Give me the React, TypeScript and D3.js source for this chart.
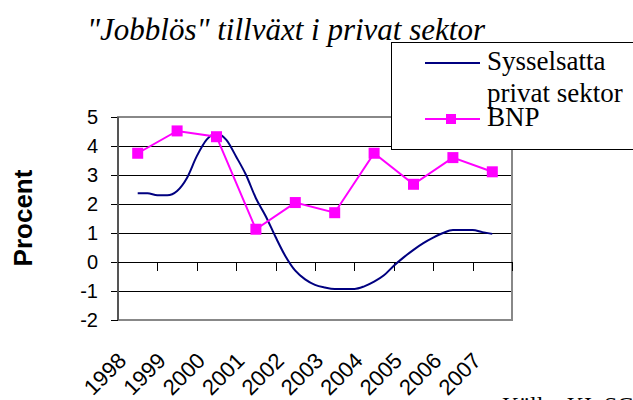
import React from "react";
import * as d3 from "d3";

const years = ["1998", "1999", "2000", "2001", "2002", "2003", "2004", "2005", "2006", "2007"];
const bnp = [3.75, 4.52, 4.32, 1.13, 2.05, 1.7, 3.75, 2.68, 3.6, 3.11];
// Quarterly employment growth, private sector (1998 .. 2007)
const sysselsatta = [
  2.37, 2.37, 2.3, 2.3, 2.45, 2.9, 3.65, 4.22, 4.43, 4.21, 3.63, 3.0, 2.2, 1.58, 0.86, 0.2,
  -0.3, -0.6, -0.79, -0.88, -0.93, -0.93, -0.93, -0.84, -0.68, -0.46, -0.13, 0.16, 0.42, 0.65,
  0.84, 1.0, 1.1, 1.1, 1.1, 1.03, 0.97,
];
const yTicks = [-2, -1, 0, 1, 2, 3, 4, 5];
const title = '"Jobblös" tillväxt i privat sektor';
const yTitle = "Procent";
const seriesNames = ["Sysselsatta", "privat sektor", "BNP"];
const source = "Källa: KI, SCB";

const W = 633;
const H = 400;
const plot = { left: 118, right: 512, top: 117, bottom: 320 };

export default function App() {
  const x = d3.scaleBand<string>().domain(years).range([plot.left, plot.right]).padding(0);
  const cx = (yr: string) => (x(yr) as number) + x.bandwidth() / 2;
  const y = d3.scaleLinear().domain([-2, 5]).range([plot.bottom, plot.top]);
  const xq = d3
    .scaleLinear()
    .domain([0, sysselsatta.length - 1])
    .range([cx(years[0]), cx(years[years.length - 1])]);

  const sysLine = d3
    .line<number>()
    .x((_, i) => xq(i))
    .y((d) => y(d))
    .curve(d3.curveMonotoneX)(sysselsatta) as string;
  const bnpLine = d3
    .line<number>()
    .x((_, i) => cx(years[i]))
    .y((d) => y(d))(bnp) as string;

  const sans = "'Liberation Sans', Arial, sans-serif";
  const serif = "'Liberation Serif', 'Times New Roman', serif";
  const ms = 11;

  return (
    <svg
      width={W}
      height={H}
      style={{ position: "absolute", left: 0, top: 0, background: "#fff" }}
    >
      <rect x={0} y={0} width={W} height={H} fill="#fff" />
      {/* gridlines */}
      {yTicks
        .filter((t) => t !== -2 && t !== 5)
        .map((t) => (
          <line
            key={"g" + t}
            x1={plot.left}
            x2={plot.right}
            y1={Math.round(y(t)) + 0.5}
            y2={Math.round(y(t)) + 0.5}
            stroke="#000"
            strokeWidth={1}
          />
        ))}
      {/* plot border */}
      <rect
        x={plot.left}
        y={plot.top}
        width={plot.right - plot.left}
        height={plot.bottom - plot.top}
        fill="none"
        stroke="#888"
        strokeWidth={2}
      />
      {/* y axis ticks */}
      {yTicks.map((t) => (
        <line
          key={"yt" + t}
          x1={plot.left - 7}
          x2={plot.left}
          y1={Math.round(y(t)) + 0.5}
          y2={Math.round(y(t)) + 0.5}
          stroke="#000"
        />
      ))}
      <line x1={plot.left} x2={plot.left} y1={plot.top} y2={plot.bottom} stroke="#555" strokeWidth={2} />
      {/* x axis at zero */}
      <line
        x1={plot.left}
        x2={plot.right}
        y1={Math.round(y(0)) + 0.5}
        y2={Math.round(y(0)) + 0.5}
        stroke="#000"
      />
      {years.map((yr) => (
        <line
          key={"xt" + yr}
          x1={Math.round((x(yr) as number) + x.bandwidth()) + 0.5}
          x2={Math.round((x(yr) as number) + x.bandwidth()) + 0.5}
          y1={y(0)}
          y2={y(0) + 9}
          stroke="#000"
        />
      ))}
      {/* y tick labels */}
      {yTicks.map((t) => (
        <text
          key={"yl" + t}
          x={98}
          y={y(t)}
          dy="0.36em"
          textAnchor="end"
          fontFamily={sans}
          fontSize={20}
          fill="#000"
        >
          {t}
        </text>
      ))}
      {/* y title */}
      <text
        transform={`translate(32,218) rotate(-90)`}
        textAnchor="middle"
        fontFamily={sans}
        fontWeight="bold"
        fontSize={26}
        fill="#000"
      >
        {yTitle}
      </text>
      {/* x labels */}
      {years.map((yr) => (
        <text
          key={"xl" + yr}
          transform={`translate(${cx(yr) - 10},362) rotate(-45)`}
          textAnchor="end"
          fontFamily={sans}
          fontSize={22}
          fill="#000"
        >
          {yr}
        </text>
      ))}
      {/* series */}
      <path d={sysLine} fill="none" stroke="#000080" strokeWidth={2} />
      <path d={bnpLine} fill="none" stroke="#FF00FF" strokeWidth={2} />
      {bnp.map((v, i) => (
        <rect
          key={"m" + i}
          x={cx(years[i]) - ms / 2}
          y={y(v) - ms / 2}
          width={ms}
          height={ms}
          fill="#FF00FF"
        />
      ))}
      {/* legend */}
      <rect x={391.5} y={42.5} width={260} height={107} fill="#fff" stroke="#000" strokeWidth={1} />
      <line x1={425} x2={480} y1={63} y2={63} stroke="#000080" strokeWidth={2} />
      <text x={487} y={70} fontFamily={serif} fontSize={27} fill="#000">
        {seriesNames[0]}
      </text>
      <text x={487} y={102} fontFamily={serif} fontSize={27} fill="#000">
        {seriesNames[1]}
      </text>
      <line x1={425} x2={480} y1={119} y2={119} stroke="#FF00FF" strokeWidth={2} />
      <rect x={451 - 5} y={119 - 5} width={10} height={10} fill="#FF00FF" />
      <text x={487} y={126} fontFamily={serif} fontSize={27} fill="#000">
        {seriesNames[2]}
      </text>
      {/* title */}
      <text x={87} y={40} fontFamily={serif} fontStyle="italic" fontSize={31} fill="#000">
        {title}
      </text>
      {/* source */}
      <text x={502} y={413} fontFamily={serif} fontSize={24} fill="#000">
        {source}
      </text>
    </svg>
  );
}
